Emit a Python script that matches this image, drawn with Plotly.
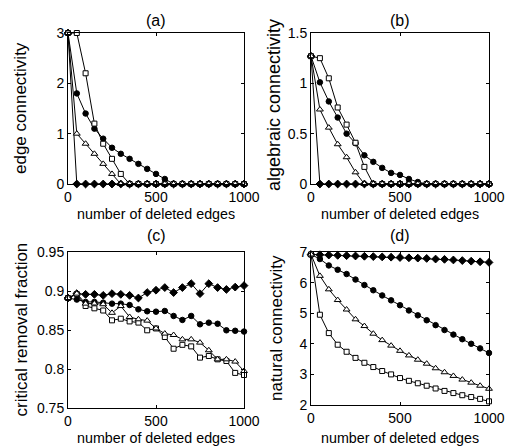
import plotly.graph_objects as go

x_edges = list(range(0, 1001, 50))

# (a) edge connectivity
a_diamond = [3] + [0] * 20
a_circle = [3, 1.8, 1.4, 1.1, 0.9, 0.72, 0.6, 0.5, 0.4, 0.3, 0.2, 0.1] + [0] * 9
a_triangle = [3, 1.0, 0.8, 0.6, 0.4, 0.2] + [0] * 15
a_square = [3, 3, 2.2, 1.2, 0.8, 0.5, 0.2] + [0] * 14

# (b) algebraic connectivity
b_diamond = [1.27] + [0] * 20
b_circle = [1.27, 1.01, 0.82, 0.66, 0.5, 0.405, 0.285, 0.22, 0.16, 0.11, 0.09, 0.05, 0.02] + [0] * 8
b_triangle = [1.27, 0.74, 0.56, 0.395, 0.266, 0.116] + [0] * 15
b_square = [1.27, 1.25, 1.05, 0.76, 0.59, 0.41, 0.17] + [0] * 14

# (c) critical removal fraction
c_diamond = [0.891, 0.8966, 0.8957, 0.8957, 0.8944, 0.8966, 0.8957, 0.8944, 0.891, 0.898,
             0.901, 0.9044, 0.898, 0.9044, 0.9094, 0.8966, 0.9094, 0.9044, 0.902, 0.905, 0.9069]
c_circle = [0.891, 0.889, 0.886, 0.886, 0.885, 0.8838, 0.8838, 0.882, 0.8765, 0.874,
            0.8735, 0.8744, 0.868, 0.8629, 0.868, 0.8573, 0.8594, 0.858, 0.8496, 0.849, 0.848]
c_triangle = [0.891, 0.8966, 0.8838, 0.884, 0.883, 0.872, 0.8807, 0.8667, 0.8637, 0.862,
              0.852, 0.8454, 0.8436, 0.838, 0.838, 0.8338, 0.824, 0.8124, 0.8124, 0.8095, 0.7974]
c_square = [0.891, 0.896, 0.8808, 0.8778, 0.875, 0.8624, 0.8645, 0.861, 0.8595, 0.8496,
            0.852, 0.841, 0.826, 0.831, 0.829, 0.8146, 0.8167, 0.8124, 0.8103, 0.795, 0.7923]

# (d) natural connectivity
d_diamond = [6.92, 6.91, 6.90, 6.89, 6.88, 6.87, 6.86, 6.85, 6.84, 6.83, 6.82,
             6.81, 6.80, 6.79, 6.77, 6.76, 6.74, 6.72, 6.70, 6.68, 6.66]
d_circle = [6.92, 6.77, 6.56, 6.42, 6.28, 6.10, 5.92, 5.75, 5.58, 5.42, 5.26,
            5.09, 4.93, 4.77, 4.61, 4.45, 4.30, 4.15, 4.00, 3.85, 3.70]
d_triangle = [6.92, 6.22, 5.78, 5.43, 5.12, 4.80, 4.58, 4.33, 4.12, 3.94, 3.77,
              3.62, 3.48, 3.35, 3.20, 3.07, 2.95, 2.83, 2.73, 2.63, 2.53]
d_square = [6.92, 4.95, 4.35, 3.97, 3.74, 3.54, 3.38, 3.24, 3.11, 3.00, 2.88,
            2.79, 2.71, 2.63, 2.54, 2.46, 2.39, 2.32, 2.26, 2.20, 2.12]

panel_titles = ["(a)", "(b)", "(c)", "(d)"]
y_titles = ["edge connectivity", "algebraic connectivity",
            "critical removal fraction", "natural connectivity"]
x_title = "number of deleted edges"
x_ticks = [0, 500, 1000]
y_ranges = [[0, 3], [0, 1.5], [0.75, 0.95], [2, 7]]
y_ticks = [[0, 1, 2, 3], [0, 0.5, 1, 1.5], [0.75, 0.8, 0.85, 0.9, 0.95], [2, 3, 4, 5, 6, 7]]
y_ticktext = [["0", "1", "2", "3"], ["0", "0.5", "1", "1.5"],
              ["0.75", "0.8", "0.85", "0.9", "0.95"], ["2", "3", "4", "5", "6", "7"]]
series = [
    [a_diamond, a_circle, a_square, a_triangle],
    [b_diamond, b_circle, b_square, b_triangle],
    [c_diamond, c_circle, c_square, c_triangle],
    [d_diamond, d_circle, d_square, d_triangle],
]

W, H = 507, 447
boxes = [  # left, right, top, bottom in pixels
    (68, 244, 33, 184),
    (311, 489, 33, 184),
    (68, 244, 252, 408),
    (311, 489, 252, 405),
]
title_y = [20, 20, 235.5, 235.5]
xlab_y = [214, 214, 437.5, 437.5]
ylab_x = [20.5, 274, 20.5, 276.5]
ylab_y = [108.5, 105, 330, 328.5]
ylab_size = [17, 18, 17, 17]

symbols = [
    dict(symbol="diamond", size=6, color="black", line=dict(color="black", width=1)),
    dict(symbol="circle", size=5.5, color="black", line=dict(color="black", width=1)),
    dict(symbol="square", size=5, color="white", line=dict(color="black", width=1)),
    dict(symbol="triangle-up", size=6, color="white", line=dict(color="black", width=1)),
]

FONT = "Liberation Sans, Arial, Helvetica, sans-serif"
fig = go.Figure()
annotations = []
layout_axes = {}
for i in range(4):
    n = "" if i == 0 else str(i + 1)
    l, r, t, b = boxes[i]
    for s, m in zip(series[i], symbols):
        fig.add_trace(go.Scatter(
            x=x_edges, y=s, mode="lines+markers",
            line=dict(color="black", width=1), marker=m,
            xaxis="x" + n, yaxis="y" + n, showlegend=False, cliponaxis=False))
    layout_axes["xaxis" + n] = dict(
        domain=[l / W, r / W], range=[0, 1000], tickvals=x_ticks, automargin=False,
        anchor="y" + n, showgrid=False, zeroline=False, showline=True, mirror="ticks",
        linecolor="black", linewidth=1, ticks="inside", ticklen=3, tickcolor="black",
        tickfont=dict(size=14, color="black", family=FONT))
    layout_axes["yaxis" + n] = dict(
        domain=[1 - b / H, 1 - t / H], range=y_ranges[i], tickvals=y_ticks[i],
        ticktext=y_ticktext[i], automargin=False,
        anchor="x" + n, showgrid=False, zeroline=False, showline=True, mirror="ticks",
        linecolor="black", linewidth=1, ticks="inside", ticklen=3, tickcolor="black",
        tickfont=dict(size=14, color="black", family=FONT))
    annotations.append(dict(text=panel_titles[i], x=(l + r) / 2 / W, y=1 - title_y[i] / H,
                            xref="paper", yref="paper", showarrow=False,
                            xanchor="center", yanchor="middle",
                            font=dict(size=16, color="black", family=FONT)))
    annotations.append(dict(text=x_title, x=(l + r) / 2 / W, y=1 - xlab_y[i] / H,
                            xref="paper", yref="paper", showarrow=False,
                            xanchor="center", yanchor="middle",
                            font=dict(size=14.3, color="black", family=FONT)))
    annotations.append(dict(text=y_titles[i], x=ylab_x[i] / W, y=1 - ylab_y[i] / H,
                            xref="paper", yref="paper", showarrow=False, textangle=-90,
                            xanchor="center", yanchor="middle",
                            font=dict(size=ylab_size[i], color="black", family=FONT)))

fig.update_layout(
    width=W, height=H, margin=dict(l=0, r=0, t=0, b=0),
    paper_bgcolor="white", plot_bgcolor="white",
    annotations=annotations, **layout_axes)

fig.write_html("out.html", config={"displayModeBar": False},
               post_script="document.body.style.margin='0';document.body.style.overflow='hidden';")
